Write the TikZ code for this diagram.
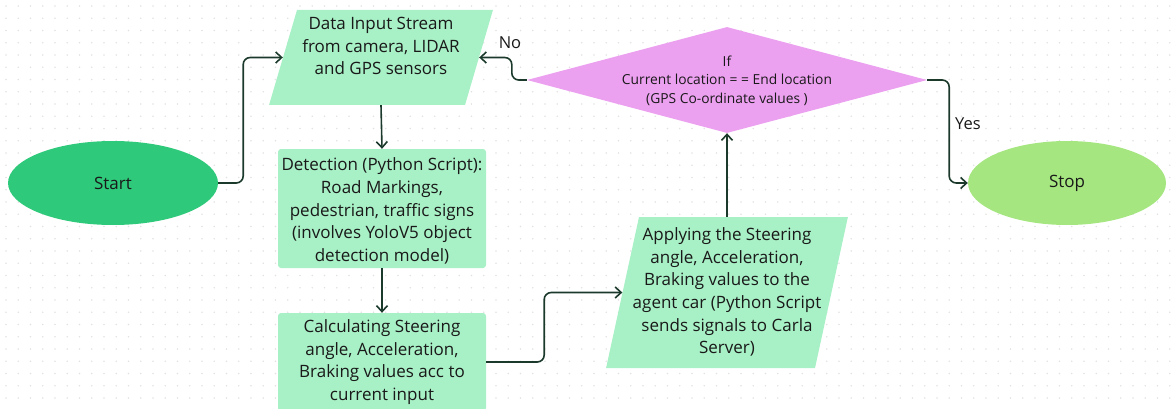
\documentclass[tikz,border=0pt]{standalone}
\usepackage{fontspec}
\setmainfont{Open Sans}
\usetikzlibrary{shapes.geometric,arrows.meta,positioning}

\definecolor{flowgreen}{RGB}{168,240,198}
\definecolor{startgreen}{RGB}{46,201,122}
\definecolor{stopgreen}{RGB}{166,230,128}
\definecolor{condpink}{RGB}{236,160,240}
\definecolor{linkgreen}{RGB}{28,58,44}
\definecolor{dotgray}{RGB}{226,226,226}

\tikzset{
	box/.style={fill=flowgreen, rounded corners=3pt, minimum width=208pt, inner sep=0pt},
	io/.style={trapezium, fill=flowgreen},
	terminal/.style={ellipse, inner sep=0pt, minimum height=84pt},
	decision/.style={diamond, fill=condpink, inner sep=0pt, minimum width=400pt, minimum height=106pt},
	txt/.style={align=center, inner sep=0pt, text=black!90, font=\fontsize{17}{22.7}\selectfont},
	lbl/.style={inner sep=0pt, text=black!90, font=\fontsize{16.5}{18}\selectfont},
	link/.style={draw=linkgreen, line width=1.6pt, rounded corners=7pt, -{Straight Barb[length=6pt,width=11pt]}},
}

\begin{document}
\begin{tikzpicture}[x=1pt,y=-1pt]
	\useasboundingbox (0,0) rectangle (1172,409);
	\clip (0,0) rectangle (1172,409);
	
	% dotted canvas
	\foreach \i in {0,...,95}
		\foreach \j in {0,...,33}
			\fill[dotgray] (6+12.25*\i,6+12.25*\j) circle (0.9pt);
	
	
	
	% start and stop
	\node[terminal, fill=startgreen, minimum width=210pt] (start) at (113,183) {};
	\node[txt] (start-txt) at (start) {Start};
	\node[terminal, fill=stopgreen, minimum width=198pt] (stop) at (1067,183) {};
	\node[txt] (stop-txt) at (stop) {Stop};
	
	
	
	% sensor input
	\node[io, trapezium left angle=73.6, trapezium right angle=106.4, inner xsep=84pt, inner ysep=47.5pt] (data) at (381,57.5) {};
	\node[txt] (data-txt) at (381,46) {Data Input Stream\\from camera, LIDAR\\and GPS sensors};
	
	% detection and control values
	\node[box, minimum height=119pt] (detect) at (382,208.5) {};
	\node[txt] (detect-txt) at (382,211) {Detection (Python Script):\\Road Markings,\\pedestrian, traffic signs\\(involves YoloV5 object\\detection model)};
	\node[box, minimum height=98pt] (calc) at (382,362) {};
	\node[txt] (calc-txt) at (382,362) {Calculating Steering\\angle, Acceleration,\\Braking values acc to\\current input};
	
	% sending to the simulator
	\node[io, trapezium left angle=77.7, trapezium right angle=102.3, inner xsep=88pt, inner ysep=75.5pt] (apply) at (727,292.5) {};
	\node[txt] (apply-txt) at (727,292) {Applying the Steering\\angle, Acceleration,\\Braking values to the\\agent car (Python Script\\sends signals to Carla\\Server)};
	
	% end check
	\node[decision] (cond) at (727,80) {};
	\node[txt, font=\fontsize{13.8}{18.5}\selectfont] (cond-txt) at (727,80.5) {If\\Current location = = End location\\(GPS Co-ordinate values )};
	
	
	
	% connectors
	\draw[link] (start.east) -- ++(25,0) |- (data.west);
	\draw[link] (data.south) -- (detect.north);
	\draw[link] (detect.south) -- (calc.north);
	\draw[link] (calc.east) -- ++(58,0) |- (apply.west);
	\draw[link] (apply.north) -- (cond.south);
	\draw[link] (cond.west) -- ++(-15,0) |- (data.east);
	\draw[link] (cond.east) -- ++(22,0) |- (stop.west);
	
	\node[lbl] (no) at (510,43) {No};
	\node[lbl] (yes) at (968,124) {Yes};
	 
\end{tikzpicture}
\end{document}
